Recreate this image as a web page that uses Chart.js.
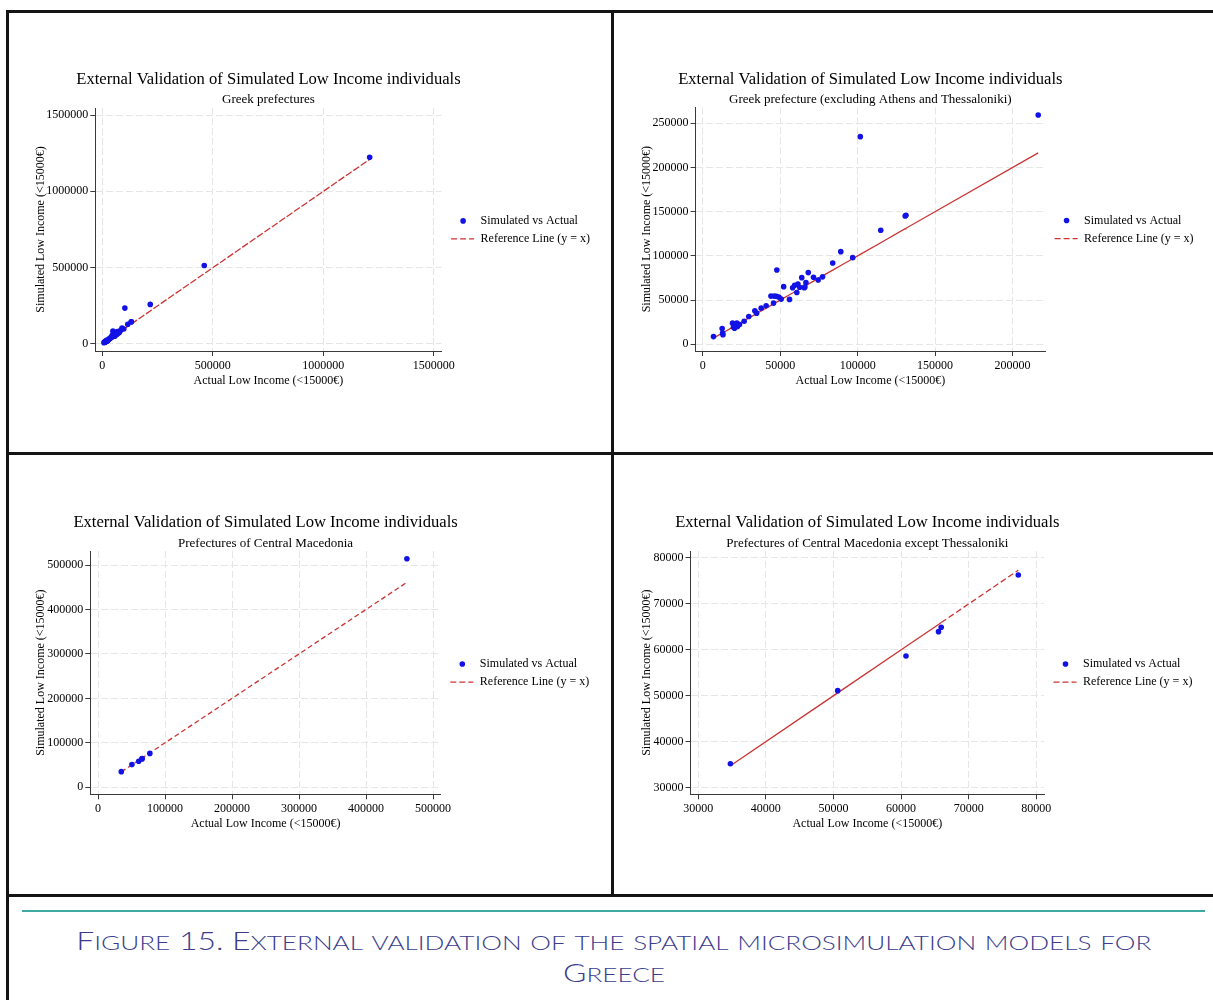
<!DOCTYPE html>
<html>
<head>
<meta charset="utf-8">
<script src="https://cdn.jsdelivr.net/npm/chart.js@4.4.1/dist/chart.umd.min.js"></script>
<style>
  html, body { margin: 0; padding: 0; background: #fff; width: 1213px; height: 1000px; overflow: hidden; }
  .rule { position: absolute; background: #141414; }
  .teal { position: absolute; background: #3ea9a3; }
  canvas { position: absolute; }
  #caption { position: absolute; left: 9px; width: 1210px; top: 925px; text-align: center;
             font-family: Lato, 'Open Sans', sans-serif; font-weight: 300; color: #3a3d8e;
             font-size: 25px; line-height: 30px; }
  #caption .ln { display: inline-block; white-space: nowrap; transform-origin: 50% 50%; }
  #caption .sc { text-transform: uppercase; font-size: 0.82em; }
</style>
</head>
<body>
<div class="rule" style="left:6px;top:10px;width:1207px;height:3px"></div>
<div class="rule" style="left:6px;top:10px;width:3px;height:990px"></div>
<div class="rule" style="left:611px;top:10px;width:3px;height:886px"></div>
<div class="rule" style="left:6px;top:452px;width:1207px;height:3px"></div>
<div class="rule" style="left:6px;top:894px;width:1207px;height:3px"></div>
<div class="teal" style="left:22px;top:910px;width:1183px;height:2px"></div>

<canvas id="c1"></canvas>
<canvas id="c2"></canvas>
<canvas id="c3"></canvas>
<canvas id="c4"></canvas>
<div id="caption"></div>

<script>
// ---- data: low income individuals (<15000€), actual vs simulated ----
// prefectures outside Central Macedonia (Athens excluded)
const restActual = [6900, 12500, 12800, 13000, 19200, 19800, 20500, 20900, 22000, 22400, 23700, 26700,
  29700, 33600, 37700, 40900, 44000, 45700, 46100, 47600, 47800, 49100, 52200, 56000, 58000, 59300,
  61400, 62600, 63900, 66600, 68100, 71500, 74500, 83900, 89100, 96800, 101700, 114900, 130700,
  131200, 216600];
const restSimulated = [8700, 17800, 12800, 10900, 23900, 19300, 18200, 22000, 23900, 20100, 22300, 26100,
  31400, 37900, 40900, 43600, 54500, 46600, 54500, 54200, 84100, 53400, 65200, 50800, 64000, 66700,
  68200, 64500, 75400, 69800, 81100, 75800, 72800, 92000, 104800, 98000, 234900, 129000, 145200,
  145900, 259400];
// Central Macedonia prefectures except Thessaloniki
const cmActual = [34760, 50630, 60730, 65540, 65940, 77340];
const cmSimulated = [35220, 51120, 58660, 63960, 64910, 76300];
// Thessaloniki and Athens
const thessActual = [461000];
const thessSimulated = [514000];
const athensActual = [1209500];
const athensSimulated = [1222900];

// axis tick values
const ticksGreece = [0, 500000, 1000000, 1500000];
const ticksX2 = [0, 50000, 100000, 150000, 200000];
const ticksY2 = [0, 50000, 100000, 150000, 200000, 250000];
const ticksMacedonia = [0, 100000, 200000, 300000, 400000, 500000];
const ticksMacedoniaRest = [30000, 40000, 50000, 60000, 70000, 80000];

// text
const mainTitle = 'External Validation of Simulated Low Income individuals';
const subtitles = ['Greek prefectures', 'Greek prefecture (excluding Athens and Thessaloniki)',
  'Prefectures of Central Macedonia', 'Prefectures of Central Macedonia except Thessaloniki'];
const xTitle = 'Actual Low Income (<15000€)';
const yTitle = 'Simulated Low Income (<15000€)';
const seriesLabels = ['Simulated vs Actual', 'Reference Line (y = x)'];
const captionLines = ['Figure 15. External validation of the spatial microsimulation models for', 'Greece'];

// ---- styling ----
const SERIF = "'Liberation Serif', 'Times New Roman', serif";
const DOT = '#1212e6';
const REF = '#cc3434';
const AXIS = '#3a3a3a';
const GRID = '#e6e6e6';

const pair = (xs, ys) => xs.map((x, i) => ({x, y: ys[i]}));
const diag = xs => [...xs].sort((a, b) => a - b).map(v => ({x: v, y: v}));

const panels = [
  { id: 'c1', box: [9, 13, 602, 439], area: [95.3, 108, 441.6, 351], titleY: 80, subY: 100, yTitleX: 40.8,
    sub: subtitles[0],
    actual: restActual.concat(cmActual, thessActual, athensActual),
    simulated: restSimulated.concat(cmSimulated, thessSimulated, athensSimulated),
    x: {min: -32000, max: 1535000, ticks: ticksGreece}, y: {min: -46000, max: 1546000, ticks: ticksGreece},
    dash: [7, 2], dashFrom: 0 },
  { id: 'c2', box: [614, 13, 599, 439], area: [695.6, 107.3, 1045.1, 351], titleY: 80, subY: 100, yTitleX: 646.5,
    sub: subtitles[1],
    actual: restActual.concat(cmActual), simulated: restSimulated.concat(cmSimulated),
    x: {min: -4650, max: 221050, ticks: ticksX2}, y: {min: -7600, max: 268100, ticks: ticksY2},
    dash: [], dashFrom: 0 },
  { id: 'c3', box: [9, 455, 602, 439], area: [90.3, 551, 440.8, 794.3], titleY: 522.7, subY: 543.3, yTitleX: 40.8,
    sub: subtitles[2],
    actual: cmActual.concat(thessActual), simulated: cmSimulated.concat(thessSimulated),
    x: {min: -11500, max: 511600, ticks: ticksMacedonia}, y: {min: -15700, max: 531500, ticks: ticksMacedonia},
    dash: [5, 3], dashFrom: 0 },
  { id: 'c4', box: [614, 455, 599, 439], area: [690.6, 551, 1044, 794.3], titleY: 522.7, subY: 543.3, yTitleX: 646.5,
    sub: subtitles[3],
    actual: cmActual, simulated: cmSimulated,
    x: {min: 28876, max: 81140, ticks: ticksMacedoniaRest}, y: {min: 28560, max: 81520, ticks: ticksMacedoniaRest},
    dash: [6, 3], dashFrom: 65900 }
];

// titles centred over the plot region, and the key to its right
const panelText = {
  id: 'panelText',
  afterDraw(chart, args, opts) {
    const {ctx, chartArea: a} = chart;
    const ds = chart.data.datasets;
    const mid = (a.left + a.right) / 2;
    ctx.save();
    ctx.fillStyle = '#000';
    ctx.textAlign = 'center';
    ctx.textBaseline = 'middle';
    ctx.font = '16.6px ' + SERIF;
    ctx.fillText(opts.title, mid, opts.titleY);
    ctx.font = '13px ' + SERIF;
    ctx.fillText(opts.subtitle, mid, opts.subY);

    const cy = (a.top + a.bottom) / 2;
    const y1 = cy - 8.6, y2 = cy + 9.4;
    ctx.fillStyle = ds[0].backgroundColor;
    ctx.beginPath();
    ctx.arc(a.right + 21.5, y1, 2.8, 0, Math.PI * 2);
    ctx.fill();
    ctx.strokeStyle = ds[1].borderColor;
    ctx.lineWidth = 1.3;
    ctx.setLineDash([6, 3]);
    ctx.beginPath();
    ctx.moveTo(a.right + 9.5, y2);
    ctx.lineTo(a.right + 32.5, y2);
    ctx.stroke();
    ctx.setLineDash([]);
    ctx.fillStyle = '#000';
    ctx.font = '12px ' + SERIF;
    ctx.textAlign = 'left';
    ctx.fillText(ds[0].label, a.right + 39, y1);
    ctx.fillText(ds[1].label, a.right + 39, y2);
    ctx.restore();
  }
};

function build(p) {
  const [ox, oy, w, h] = p.box;
  const cv = document.getElementById(p.id);
  cv.width = w; cv.height = h;
  cv.style.left = ox + 'px'; cv.style.top = oy + 'px';
  cv.style.width = w + 'px'; cv.style.height = h + 'px';

  const cl = p.area[0] - ox, ct = p.area[1] - oy, cr = p.area[2] - ox, cb = p.area[3] - oy;
  const padL = 4, padB = 10, tickLen = 5;
  const LHT = 12 * 1.2;
  const xTickPad = (p.area[3] + 14.7 - oy) - cb - tickLen - LHT / 2;
  const xTitlePadB = (h - padB) - (p.area[3] + 30 - oy) - LHT / 2;
  const yTitlePadT = (p.yTitleX - ox) - padL - LHT / 2;

  const font12 = {family: SERIF, size: 12, weight: 'normal', lineHeight: 1.2};
  const axis = (range, isX) => ({
    type: 'linear',
    min: range.min, max: range.max,
    afterBuildTicks: s => { s.ticks = range.ticks.map(v => ({value: v})); },
    afterFit: s => { if (isX) s.height = h - padB - cb; else s.width = cl - padL; },
    ticks: {autoSkip: false, maxRotation: 0, minRotation: 0, color: '#000', font: font12,
            padding: isX ? xTickPad : 2, callback: v => String(v)},
    grid: {color: GRID, lineWidth: 1, drawTicks: true, tickLength: tickLen,
           tickColor: AXIS, tickWidth: 1, tickBorderDash: []},
    border: {display: true, color: AXIS, width: 1, dash: [7, 3]},
    title: {display: true, text: isX ? xTitle : yTitle, color: '#000', font: font12,
            padding: isX ? {top: 0, bottom: xTitlePadB} : {top: yTitlePadT, bottom: 0}}
  });

  const dashFrom = p.dashFrom, dash = p.dash;
  new Chart(cv, {
    type: 'scatter',
    data: {
      datasets: [
        { type: 'scatter', label: seriesLabels[0], data: pair(p.actual, p.simulated),
          backgroundColor: DOT, borderColor: DOT, borderWidth: 0, pointRadius: 2.8, pointHoverRadius: 2.8, order: 0 },
        { type: 'line', label: seriesLabels[1], data: diag(p.actual),
          borderColor: REF, backgroundColor: REF, borderWidth: 1.3, pointRadius: 0, pointHoverRadius: 0,
          fill: false, tension: 0, order: 1,
          segment: { borderDash: c => (c.p0.parsed.x >= dashFrom ? dash : []) } }
      ]
    },
    options: {
      responsive: false, animation: false, devicePixelRatio: 1,
      events: [],
      layout: {padding: {left: padL, right: w - cr, top: ct, bottom: padB}},
      plugins: {
        legend: {display: false},
        tooltip: {enabled: false},
        title: {display: false},
        panelText: {title: mainTitle, subtitle: p.sub, titleY: p.titleY - oy, subY: p.subY - oy}
      },
      scales: { x: axis(p.x, true), y: axis(p.y, false) }
    },
    plugins: [panelText]
  });
}

panels.forEach(build);

// caption set in small capitals
const cap = document.getElementById('caption');
captionLines.forEach((line, i) => {
  const span = document.createElement('span');
  span.className = 'ln';
  span.innerHTML = line.replace(/[a-z]+/g, m => '<span class="sc">' + m + '</span>');
  cap.appendChild(span);
  if (i < captionLines.length - 1) cap.appendChild(document.createElement('br'));
});
const lines = cap.querySelectorAll('.ln');
const k = 1075 / lines[0].getBoundingClientRect().width;
lines.forEach(l => { l.style.transform = 'scaleX(' + k.toFixed(4) + ')'; });
</script>
</body>
</html>
